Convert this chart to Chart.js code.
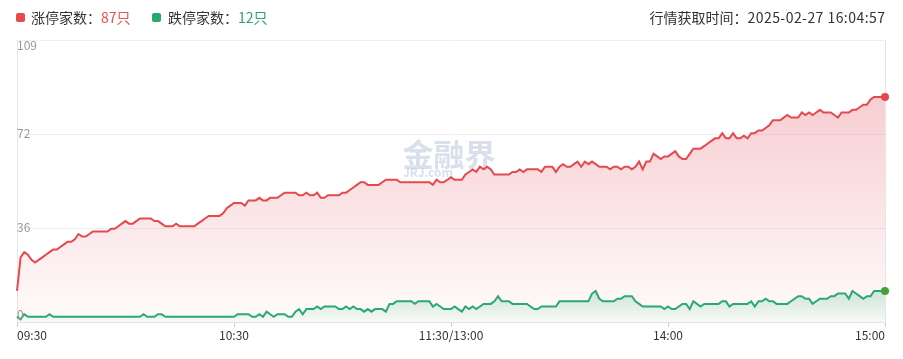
<!DOCTYPE html>
<html>
<head>
<meta charset="utf-8">
<script src="https://cdn.jsdelivr.net/npm/chart.js@4/dist/chart.umd.min.js"></script>
<style>
html,body{margin:0;padding:0;background:#fff;width:903px;height:359px;overflow:hidden;font-family:"Noto Sans CJK SC","Noto Sans",sans-serif;}
#wrap{position:relative;width:903px;height:359px;}
#c{position:absolute;left:0;top:0;}
.sq{position:absolute;width:9px;height:9px;border-radius:2px;top:13px;}
.txt{position:absolute;top:7px;font-size:14px;line-height:20px;color:#333;white-space:nowrap;}
.num{letter-spacing:0.45px;}
</style>
</head>
<body>
<div id="wrap">
  <canvas id="c" width="903" height="359"></canvas>
  <div class="sq" style="left:16px;background:#e84a4a"></div>
  <div class="txt" style="left:31px">涨停家数：<span style="color:#e8534f">87只</span></div>
  <div class="sq" style="left:152px;background:#26a870"></div>
  <div class="txt" style="left:168px">跌停家数：<span style="color:#2aa571">12只</span></div>
  <div class="txt" style="right:18px">行情获取时间：<span class="num">2025-02-27 16:04:5</span>7</div>
</div>
<script>
// ---- data ----
function buildTimes(){
  const out=[];
  const fmt=m=>String(Math.floor(m/60)).padStart(2,'0')+':'+String(m%60).padStart(2,'0');
  for(let m=9*60+30;m<=11*60+30;m++) out.push(fmt(m));
  for(let m=13*60+1;m<=15*60;m++) out.push(fmt(m));
  return out;
}
const times = buildTimes();

const limitUpCounts = [
12,25,27,26,24,23,24,25,26,27,
28,28,29,30,31,31,32,34,33,33,
34,35,35,35,35,35,36,36,37,38,
39,38,38,39,40,40,40,40,39,39,
38,37,37,37,38,37,37,37,37,37,
38,39,40,41,41,41,41,42,44,45,
46,46,46,45,47,47,47,48,47,47,
48,48,48,49,50,50,50,50,49,49,
50,49,49,50,48,48,49,49,49,49,
50,50,51,52,53,54,54,53,53,53,
53,54,55,55,55,55,54,54,54,54,
54,54,54,54,54,53,55,54,54,55,
56,55,55,55,57,58,59,58,60,59,
60,59,57,57,57,57,57,58,58,59,
58,59,59,59,59,58,60,60,60,58,
60,61,60,60,61,62,60,62,61,62,
61,60,60,60,59,60,60,59,60,60,
59,60,62,59,62,62,65,64,63,64,
64,65,66,64,63,63,65,67,67,67,
68,69,70,71,71,73,71,71,73,71,
71,72,71,73,73,74,74,75,76,78,
78,78,79,80,79,79,79,81,80,81,
80,81,82,81,81,81,80,79,81,81,
81,82,82,83,84,84,86,87,87,87,87
];

const limitDownCounts = [
2,1,3,2,2,2,2,2,2,3,
2,2,2,2,2,2,2,2,2,2,
2,2,2,2,2,2,2,2,2,2,
2,2,2,2,2,3,2,2,2,3,
3,2,2,2,2,2,2,2,2,2,
2,2,2,2,2,2,2,2,2,2,
2,3,3,3,3,2,2,3,2,4,
3,2,3,3,3,2,2,4,5,3,
5,5,5,6,5,6,6,6,6,5,
5,6,5,6,5,5,4,5,4,5,
5,5,4,7,7,8,8,8,8,8,
7,8,8,8,8,6,7,6,5,5,
5,6,5,4,6,5,6,5,6,7,
7,7,8,10,8,8,8,7,7,7,
7,7,6,5,5,6,6,6,6,6,
8,8,8,8,8,8,8,8,8,11,
12,9,8,8,8,8,9,9,10,10,
10,8,7,6,6,6,6,6,6,5,
6,5,5,6,7,7,5,8,7,6,
7,7,7,7,7,8,8,6,7,7,
7,7,7,8,6,8,8,9,8,8,
7,7,7,7,8,9,10,10,9,9,
7,8,9,9,9,10,10,11,11,11,
9,12,11,10,9,10,10,12,12,12,12
];

const xTickTimes  = ['09:30','10:30','11:30','14:00','15:00'];
const xTickLabels = ['09:30','10:30','11:30/13:00','14:00','15:00'];
const yMax = 109;
const yTickValues = [0, 109/3, 218/3, 109];
const yTickLabels = ['0','36','72','109'];

// ---- styles ----
const FONT = '"Noto Sans CJK SC","Noto Sans",sans-serif';
const RED = '#e5484d';
const GREEN = '#2aa876';
Chart.defaults.font.family = FONT;

const lastIdx = times.length - 1;

const yLabelPlugin = {
  id: 'yLabels',
  afterDatasetsDraw(chart){
    const s = chart.scales.y, ctx = chart.ctx, ca = chart.chartArea;
    ctx.save();
    ctx.font = '12px ' + FONT;
    ctx.fillStyle = '#999';
    ctx.textAlign = 'left';
    yTickValues.forEach((v,i)=>{
      const y = s.getPixelForValue(v);
      if(i === yTickValues.length-1){ ctx.textBaseline='top'; ctx.fillText(yTickLabels[i], ca.left, y-1); }
      else if(i === 0){ ctx.textBaseline='alphabetic'; ctx.fillText(yTickLabels[i], ca.left, y-3); }
      else { ctx.textBaseline='middle'; ctx.fillText(yTickLabels[i], ca.left, y-1); }
    });
    ctx.restore();
  }
};

const watermarkPlugin = {
  id: 'watermark',
  beforeDatasetsDraw(chart){
    const ctx = chart.ctx, ca = chart.chartArea;
    const cx = (ca.left + ca.right)/2;
    const cy = ca.top + (ca.bottom - ca.top)*0.34;
    ctx.save();
    ctx.fillStyle = 'rgba(190,204,224,0.6)';
    ctx.textAlign = 'center';
    ctx.textBaseline = 'middle';
    ctx.font = 'bold 31px ' + FONT;
    ctx.fillText('金融界', cx - 2, cy + 18);
    ctx.font = 'bold 12px ' + FONT;
    ctx.textAlign = 'left';
    ctx.fillText('JRJ.com', cx - 48, cy + 37);
    ctx.restore();
  }
};

new Chart(document.getElementById('c'), {
  type: 'line',
  data: {
    labels: times,
    datasets: [
      {
        label: '涨停家数',
        data: limitUpCounts,
        order: 1,
        borderColor: RED,
        borderWidth: 2,
        tension: 0,
        fill: 'origin',
        backgroundColor: (ctx)=>{
          const ch = ctx.chart, ca = ch.chartArea;
          if(!ca) return 'rgba(228,76,90,0.1)';
          const g = ch.ctx.createLinearGradient(0, ca.top, 0, ca.bottom);
          g.addColorStop(0, 'rgba(228,76,90,0.34)');
          g.addColorStop(1, 'rgba(228,76,90,0.02)');
          return g;
        },
        pointRadius: (ctx)=> ctx.dataIndex === lastIdx ? 4 : 0,
        pointBackgroundColor: RED,
        pointBorderWidth: 0,
        pointHoverRadius: 0,
        clip: false
      },
      {
        label: '跌停家数',
        data: limitDownCounts,
        order: 0,
        borderColor: GREEN,
        borderWidth: 2,
        tension: 0,
        fill: 'origin',
        backgroundColor: (ctx)=>{
          const ch = ctx.chart, ca = ch.chartArea;
          if(!ca || !ch.scales.y) return 'rgba(40,170,115,0.1)';
          const top = ch.scales.y.getPixelForValue(Math.max(...limitDownCounts));
          const g = ch.ctx.createLinearGradient(0, top, 0, ca.bottom);
          g.addColorStop(0, 'rgba(40,170,115,0.22)');
          g.addColorStop(1, 'rgba(40,170,115,0.03)');
          return g;
        },
        pointRadius: (ctx)=> ctx.dataIndex === lastIdx ? 4 : 0,
        pointBackgroundColor: '#45a03a',
        pointBorderWidth: 0,
        pointHoverRadius: 0,
        clip: false
      }
    ]
  },
  options: {
    responsive: false,
    animation: false,
    events: [],
    layout: { padding: { left: 17, right: 18, top: 40, bottom: 0 } },
    plugins: { legend: { display: false }, tooltip: { enabled: false } },
    scales: {
      x: {
        type: 'category',
        afterFit(s){ s.height = 37; },
        grid: {
          display: true,
          drawOnChartArea: true,
          offset: false,
          color: (ctx)=> ctx.index === lastIdx ? '#e6e6e6' : 'rgba(0,0,0,0)',
          tickColor: (ctx)=> (ctx.tick && xTickTimes.includes(times[ctx.index])) ? '#cccccc' : 'rgba(0,0,0,0)',
          tickLength: 5
        },
        border: { display: true, color: '#e3e3e3' },
        ticks: {
          autoSkip: false,
          maxRotation: 0,
          minRotation: 0,
          align: 'inner',
          padding: 1,
          color: '#333',
          font: { size: 12, family: FONT },
          callback: (val, idx)=>{
            const k = xTickTimes.indexOf(times[idx]);
            return k >= 0 ? xTickLabels[k] : '';
          }
        }
      },
      y: {
        min: 0,
        max: yMax,
        afterFit(s){ s.width = 0; },
        afterBuildTicks(s){ s.ticks = yTickValues.map(v=>({value:v})); },
        grid: { color: '#efefef', drawTicks: false },
        border: { display: true, color: '#e6e6e6' },
        ticks: { display: false }
      }
    }
  },
  plugins: [watermarkPlugin, yLabelPlugin]
});
</script>
</body>
</html>
